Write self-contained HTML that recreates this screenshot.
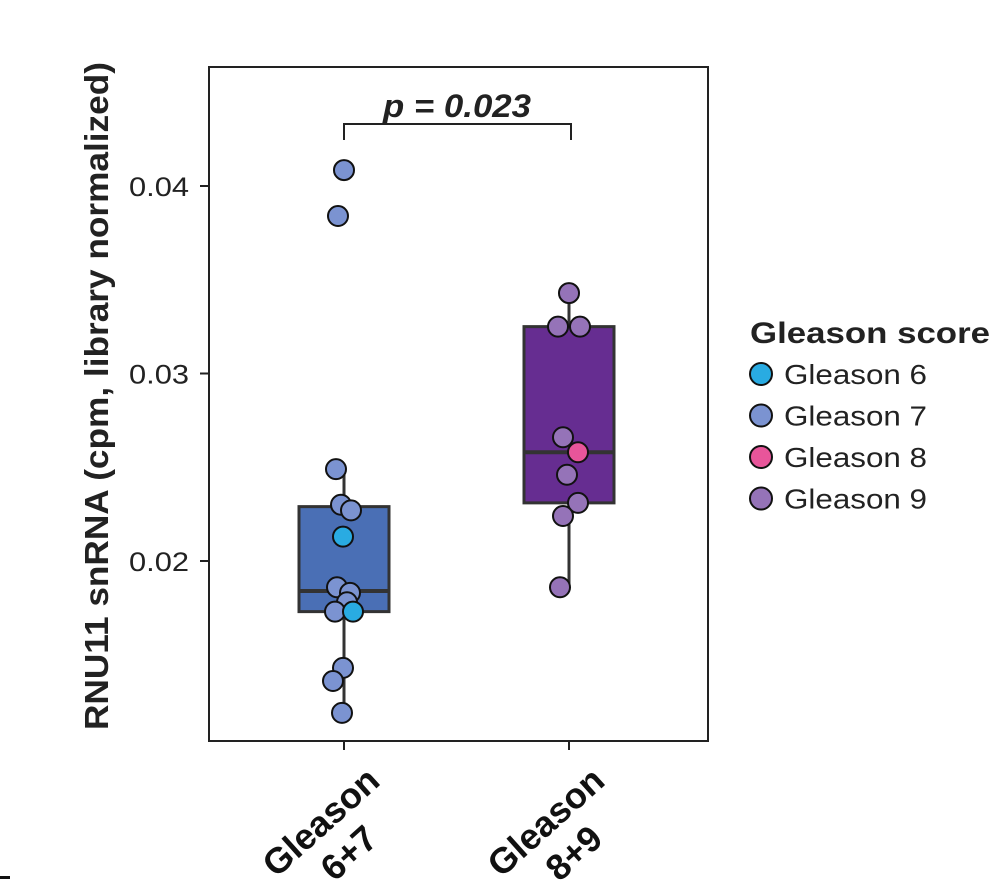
<!DOCTYPE html>
<html><head><meta charset="utf-8"><style>
body{margin:0;background:#fff;}
svg{display:block;font-family:"Liberation Sans",Arial,sans-serif;}
</style></head><body>
<svg id="chart" width="998" height="891" viewBox="0 0 998 891">
<rect x="209" y="67" width="499" height="674" fill="#fff" stroke="#222" stroke-width="2"/>
<g id="yaxis"></g>
<g id="boxes"></g>
<g id="points"></g>
<text transform="translate(108,396) rotate(-90)" text-anchor="middle" font-size="33" font-weight="bold" fill="#222" textLength="668" lengthAdjust="spacingAndGlyphs">RNU11 snRNA (cpm, library normalized)</text>
<g>
<path d="M344,140 V124 H571 V140" fill="none" stroke="#222" stroke-width="2"/>
<text x="457" y="117" text-anchor="middle" font-size="32" font-weight="bold" font-style="italic" fill="#222" textLength="148" lengthAdjust="spacingAndGlyphs">p = 0.023</text>
</g>
<g id="xlabels"></g>
<g font-size="28" fill="#222">
<text x="750" y="343" font-size="30" font-weight="bold" textLength="240" lengthAdjust="spacingAndGlyphs">Gleason score</text>
<g id="legend-items"></g>
</g>
<rect x="0" y="876" width="10" height="3" fill="#111"/>
</svg>
<script>
const categories = ["Gleason 6+7","Gleason 8+9"];
const catLines = [["Gleason","6+7"],["Gleason","8+9"]];
const yTicks = [0.02,0.03,0.04];
const yTickLabels = ["0.02","0.03","0.04"];
const boxQ1 = [0.0173,0.0231];
const boxMedian = [0.0184,0.0258];
const boxQ3 = [0.0229,0.0325];
const whiskerLow = [0.0119,0.0186];
const whiskerHigh = [0.0249,0.0343];
const boxColors = ["#4a6fb5","#662d91"];
const pointCat = [0,0,0,0,0,0,0,0,0,0,0,0,0,0,1,1,1,1,1,1,1,1,1];
const pointJitter = [0,-6,-8,-3,7,-1,-7,6,3,-9,9,-1,-11,-2, 0,-11,11,-6,9,-2,9,-6,-9];
const pointValue = [0.04085,0.0384,0.0249,0.0230,0.0227,0.0213,0.0186,0.0183,0.0178,0.0173,0.0173,0.0143,0.0136,0.0119, 0.03429,0.0325,0.0325,0.0266,0.0258,0.0246,0.0231,0.0224,0.0186];
const pointGrade = [7,7,7,7,7,6,7,7,7,7,6,7,7,7, 9,9,9,9,8,9,9,9,9];
const legendGrades = [6,7,8,9];
const gradeColors = {6:"#29abe2",7:"#7b93d1",8:"#e8559a",9:"#9573b8"};
const NS="http://www.w3.org/2000/svg";
function y(v){return 561-(v-0.02)*18750;}
function x(i){return 344+i*225;}
function mk(tag,attrs,parent){const e=document.createElementNS(NS,tag);for(const k in attrs)e.setAttribute(k,attrs[k]);parent.appendChild(e);return e;}
const ya=document.getElementById('yaxis');
yTicks.forEach((t,i)=>{
  const l=mk('line',{x1:200,x2:209,y1:y(t),y2:y(t),stroke:'#222','stroke-width':2},ya);
  
  
  const tx=mk('text',{x:189,y:y(t)+10,'text-anchor':'end','font-size':27,fill:'#222',textLength:60,lengthAdjust:'spacingAndGlyphs'},ya);
  tx.textContent=yTickLabels[i];
  
  
});
const bx=document.getElementById('boxes');
categories.forEach((c,i)=>{
  const cx=x(i),w=90;
  const wl=mk('line',{x1:cx,x2:cx,y1:y(whiskerHigh[i]),y2:y(whiskerLow[i]),stroke:'#333','stroke-width':3},bx);
  
  
  const r=mk('rect',{x:cx-w/2,y:y(boxQ3[i]),width:w,height:y(boxQ1[i])-y(boxQ3[i]),fill:boxColors[i],stroke:'#333','stroke-width':3},bx);
  
  
  const m=mk('line',{x1:cx-w/2,x2:cx+w/2,y1:y(boxMedian[i]),y2:y(boxMedian[i]),stroke:'#333','stroke-width':4},bx);
  
  
  const t=mk('line',{x1:cx,x2:cx,y1:741,y2:750,stroke:'#222','stroke-width':2},bx);
  
  
});
const pg=document.getElementById('points');
pointValue.forEach((v,i)=>{
  const c=mk('circle',{cx:x(pointCat[i])+pointJitter[i],cy:y(v),r:10,fill:gradeColors[pointGrade[i]],stroke:'#111','stroke-width':2},pg);
  
  
});
const xl=document.getElementById('xlabels');
catLines.forEach((ls,i)=>{
  const g=mk('g',{transform:'translate('+(x(i)-15)+',831) rotate(-42)'},xl);
  
  
  ls.forEach((s,j)=>{const t=mk('text',{x:0,y:j*42,'text-anchor':'middle','font-size':36,'font-weight':'bold',fill:'#111'},g);t.textContent=s;});
});
const li=document.getElementById('legend-items');
legendGrades.forEach((g,i)=>{
  const yy=374+i*41.5;
  const c=mk('circle',{cx:761,cy:yy,r:11,fill:gradeColors[g],stroke:'#111','stroke-width':2},li);
  
  
  const t=mk('text',{x:784,y:yy+10,textLength:143,lengthAdjust:'spacingAndGlyphs'},li);
  t.textContent='Gleason '+g;
  
  
});
</script>
</body></html>
